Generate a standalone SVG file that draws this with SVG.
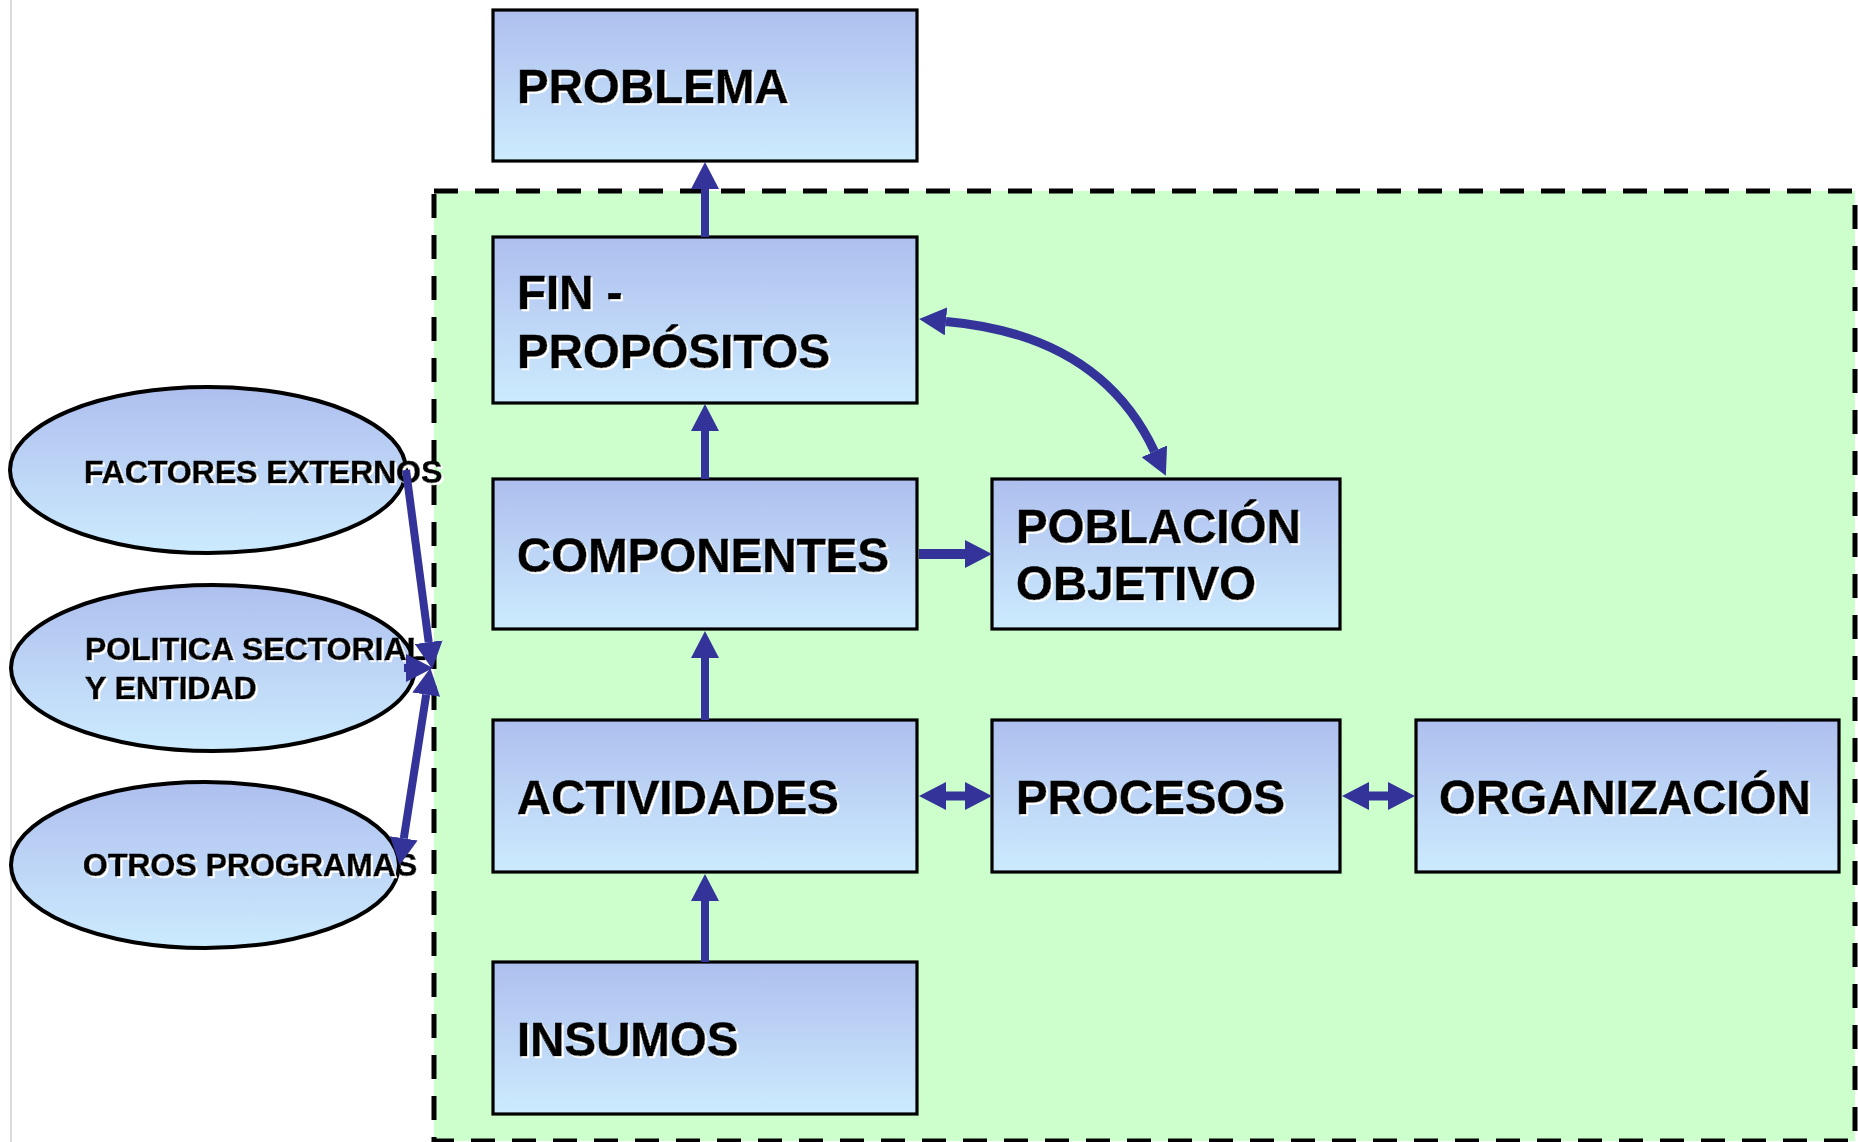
<svg xmlns="http://www.w3.org/2000/svg" width="1858" height="1142" viewBox="0 0 1858 1142">
  <defs>
    <linearGradient id="nodeGrad" x1="0" y1="0" x2="0" y2="1">
      <stop offset="0" stop-color="#AEBFEE"/>
      <stop offset="1" stop-color="#CCEBFE"/>
    </linearGradient>
    <filter id="whiteShadow" x="-5%" y="-20%" width="110%" height="140%">
      <feDropShadow dx="2" dy="2" stdDeviation="0.4" flood-color="#FFFFFF" flood-opacity="1"/>
    </filter>
    <marker id="head" markerUnits="userSpaceOnUse" viewBox="0 0 27 28" markerWidth="27" markerHeight="28" refX="0" refY="14" orient="auto-start-reverse">
      <path d="M0,0 L27,14 L0,28 z" fill="#333399"/>
    </marker>
    <style>
      .box { fill: url(#nodeGrad); stroke: #000; stroke-width: 3.2; }
      .ell { fill: url(#nodeGrad); stroke: #000; stroke-width: 4; }
      .t { font-family: "Liberation Sans", Arial, sans-serif; font-weight: bold; fill: #000; stroke: #000; stroke-width: 0.6; filter: url(#whiteShadow); }
      .tb { font-size: 47.5px; }
      .te { font-size: 32px; }
      .conn { fill: none; stroke: #333399; stroke-width: 8; }
    </style>
  </defs>

  <rect x="0" y="0" width="1858" height="1142" fill="#FFFFFF"/>
  <line x1="11" y1="0" x2="11" y2="1142" stroke="#DADADA" stroke-width="2"/>

  <g id="program-area">
    <rect x="434" y="191" width="1421" height="950" fill="#CCFFCC" stroke="#000" stroke-width="5" stroke-dasharray="24 17"/>
  </g>

  <g id="problema">
    <rect class="box" x="493" y="10" width="424" height="151"/>
    <text class="t tb" x="517" y="103">PROBLEMA</text>
  </g>
  <g id="fin-propositos">
    <rect class="box" x="493" y="237" width="424" height="166"/>
    <text class="t tb" x="517" y="309">FIN -</text>
    <text class="t tb" x="517" y="368">PROPÓSITOS</text>
  </g>
  <g id="componentes">
    <rect class="box" x="493" y="479" width="424" height="150"/>
    <text class="t tb" x="517" y="572">COMPONENTES</text>
  </g>
  <g id="poblacion-objetivo">
    <rect class="box" x="992" y="479" width="348" height="150"/>
    <text class="t tb" x="1016" y="543">POBLACIÓN</text>
    <text class="t tb" x="1016" y="600">OBJETIVO</text>
  </g>
  <g id="actividades">
    <rect class="box" x="493" y="720" width="424" height="152"/>
    <text class="t tb" x="517" y="814">ACTIVIDADES</text>
  </g>
  <g id="procesos">
    <rect class="box" x="992" y="720" width="348" height="152"/>
    <text class="t tb" x="1016" y="814">PROCESOS</text>
  </g>
  <g id="organizacion">
    <rect class="box" x="1416" y="720" width="423" height="152"/>
    <text class="t tb" x="1439" y="814">ORGANIZACIÓN</text>
  </g>
  <g id="insumos">
    <rect class="box" x="493" y="962" width="424" height="152"/>
    <text class="t tb" x="517" y="1056">INSUMOS</text>
  </g>

  <g id="factores-externos">
    <ellipse class="ell" cx="208" cy="470" rx="198" ry="83"/>
    <text class="t te" x="84" y="483">FACTORES EXTERNOS</text>
  </g>
  <g id="politica-sectorial">
    <ellipse class="ell" cx="213" cy="668" rx="202" ry="83"/>
    <text class="t te" x="85" y="660">POLITICA SECTORIAL</text>
    <text class="t te" x="85" y="699">Y ENTIDAD</text>
  </g>
  <g id="otros-programas">
    <ellipse class="ell" cx="205" cy="865" rx="194" ry="83"/>
    <text class="t te" x="83" y="876">OTROS PROGRAMAS</text>
  </g>

  <g id="connectors">
    <path class="conn" d="M705,237 L705,189" marker-end="url(#head)"/>
    <path class="conn" d="M705,479 L705,431" marker-end="url(#head)"/>
    <path class="conn" d="M705,720 L705,658" marker-end="url(#head)"/>
    <path class="conn" d="M705,962 L705,901" marker-end="url(#head)"/>
    <path class="conn" d="M919,554 L965,554" marker-end="url(#head)" style="stroke-width:10"/>
    <path class="conn" d="M946,796 L965,796" marker-start="url(#head)" marker-end="url(#head)" style="stroke-width:9"/>
    <path class="conn" d="M1369,796 L1388,796" marker-start="url(#head)" marker-end="url(#head)" style="stroke-width:9"/>
    <path class="conn" d="M946,321.4 Q1100,335 1154.4,451.3" marker-start="url(#head)" marker-end="url(#head)" style="stroke-width:9"/>
    <path class="conn" d="M406,470 L428.7,642.2" marker-end="url(#head)"/>
    <path class="conn" d="M404,668 L406,668" marker-end="url(#head)"/>
    <path class="conn" d="M426.2,694.7 L403.8,838.3" marker-start="url(#head)" marker-end="url(#head)"/>
  </g>
</svg>
